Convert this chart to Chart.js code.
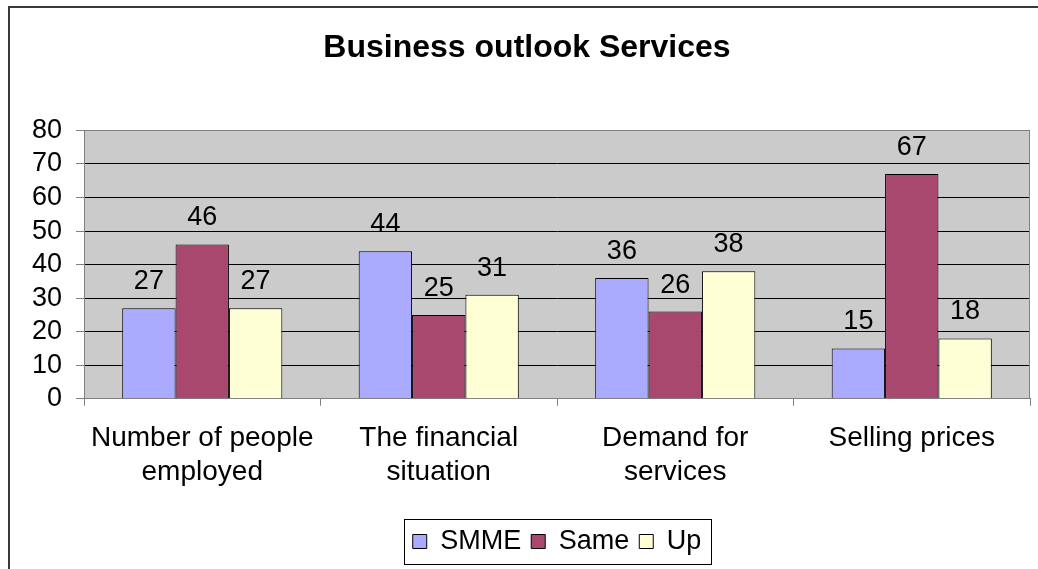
<!DOCTYPE html>
<html>
<head>
<meta charset="utf-8">
<title>Business outlook Services</title>
<script src="https://cdn.jsdelivr.net/npm/chart.js@4.4.1/dist/chart.umd.min.js"></script>
<style>
    html, body { margin: 0; padding: 0; background: #fff; }
    #wrap { width: 1038px; height: 569px; }
</style>
</head>
<body>
<div id="wrap"><canvas id="myChart" width="1038" height="569"></canvas></div>
<script>
// survey answers per question
const categories = [
    ['Number of people', 'employed'],
    ['The financial', 'situation'],
    ['Demand for', 'services'],
    'Selling prices'
];
const smme = [27, 44, 36, 15];
const same = [46, 25, 26, 67];
const up = [27, 31, 38, 18];

const yMin = 0, yMax = 80, yStep = 10;

const FONT = '"Liberation Sans", Arial, sans-serif';

// white page, outer frame and grey plot background
const frame = {
    id: 'frame',
    beforeDraw(chart) {
        const c = chart.ctx;
        const a = chart.chartArea;
        c.save();
        c.fillStyle = '#fff';
        c.fillRect(0, 0, chart.width, chart.height);
        c.strokeStyle = '#3a3a3a';
        c.lineWidth = 2;
        c.beginPath();
        c.moveTo(9, chart.height);
        c.lineTo(9, 7);
        c.lineTo(chart.width, 7);
        c.stroke();
        c.fillStyle = '#cbcbcb';
        c.fillRect(a.left, a.top, a.right - a.left, a.bottom - a.top);
        c.restore();
    },
    beforeDatasetsDraw(chart) {
        const c = chart.ctx;
        const a = chart.chartArea;
        c.save();
        c.strokeStyle = '#808080';
        c.lineWidth = 1;
        c.strokeRect(Math.round(a.left) + 0.5, Math.round(a.top) + 0.5,
            Math.round(a.right - a.left) - 1, Math.round(a.bottom - a.top));
        c.restore();
    },
    afterDraw(chart) {
        // box round the legend
        const boxes = chart.legend.legendHitBoxes;
        if (!boxes || !boxes.length) return;
        const c = chart.ctx;
        const left = Math.min(...boxes.map(b => b.left)) - 9;
        const right = Math.max(...boxes.map(b => b.left + b.width)) + 9;
        const mid = boxes[0].top + boxes[0].height / 2;
        c.save();
        c.strokeStyle = '#000';
        c.lineWidth = 1;
        c.strokeRect(Math.round(left) + 0.5, Math.round(mid - 22.5) + 0.5, Math.round(right - left), 45);
        c.restore();
    }
};

// numbers above the bars
const valueLabels = {
    id: 'valueLabels',
    afterDatasetsDraw(chart) {
        const c = chart.ctx;
        c.save();
        c.font = '27px ' + FONT;
        c.fillStyle = '#000';
        c.textAlign = 'center';
        c.textBaseline = 'alphabetic';
        chart.data.datasets.forEach((ds, i) => {
            chart.getDatasetMeta(i).data.forEach((bar, j) => {
                c.fillText(ds.data[j], bar.x, bar.y - 19);
            });
        });
        c.restore();
    }
};

const ctx = document.getElementById('myChart');

new Chart(ctx, {
    type: 'bar',
    data: {
        labels: categories,
        datasets: [
            { label: 'SMME', data: smme, backgroundColor: '#aaaaff' },
            { label: 'Same', data: same, backgroundColor: '#a8486f' },
            { label: 'Up', data: up, backgroundColor: '#ffffd6' }
        ].map(d => Object.assign(d, {
            borderColor: '#000',
            borderWidth: 1,
            categoryPercentage: 0.677,
            barPercentage: 1
        }))
    },
    options: {
        responsive: false,
        devicePixelRatio: 1,
        animation: false,
        layout: { padding: { left: 24, right: 8, top: 0, bottom: 4 } },
        plugins: {
            title: {
                display: true,
                text: 'Business outlook Services',
                color: '#000',
                font: { family: FONT, size: 32, weight: 'bold' },
                padding: { top: 29, bottom: 63 }
            },
            legend: {
                position: 'bottom',
                fullSize: false,
                labels: {
                    color: '#000',
                    font: { family: FONT, size: 27 },
                    boxWidth: 14,
                    boxHeight: 14,
                    padding: 10
                }
            },
            tooltip: { enabled: false }
        },
        scales: {
            x: {
                grid: {
                    display: true,
                    drawOnChartArea: false,
                    drawTicks: true,
                    tickLength: 7,
                    offset: true,
                    color: '#808080'
                },
                border: { color: '#808080', width: 1 },
                ticks: {
                    color: '#000',
                    padding: 16,
                    maxRotation: 0,
                    autoSkip: false,
                    font: { family: FONT, size: 28 }
                },
                afterFit(scale) { scale.height += 13; }
            },
            y: {
                min: yMin,
                max: yMax,
                grid: {
                    color: c => (c.tick && (c.tick.value === yMin || c.tick.value === yMax)) ? '#808080' : '#000',
                    tickColor: '#808080',
                    tickLength: 8
                },
                border: { color: '#808080', width: 1 },
                ticks: {
                    stepSize: yStep,
                    autoSkip: false,
                    color: '#000',
                    padding: 14,
                    font: { family: FONT, size: 27 }
                },
                afterFit(scale) { scale.width = 60; }
            }
        }
    },
    plugins: [frame, valueLabels]
});
</script>
</body>
</html>
